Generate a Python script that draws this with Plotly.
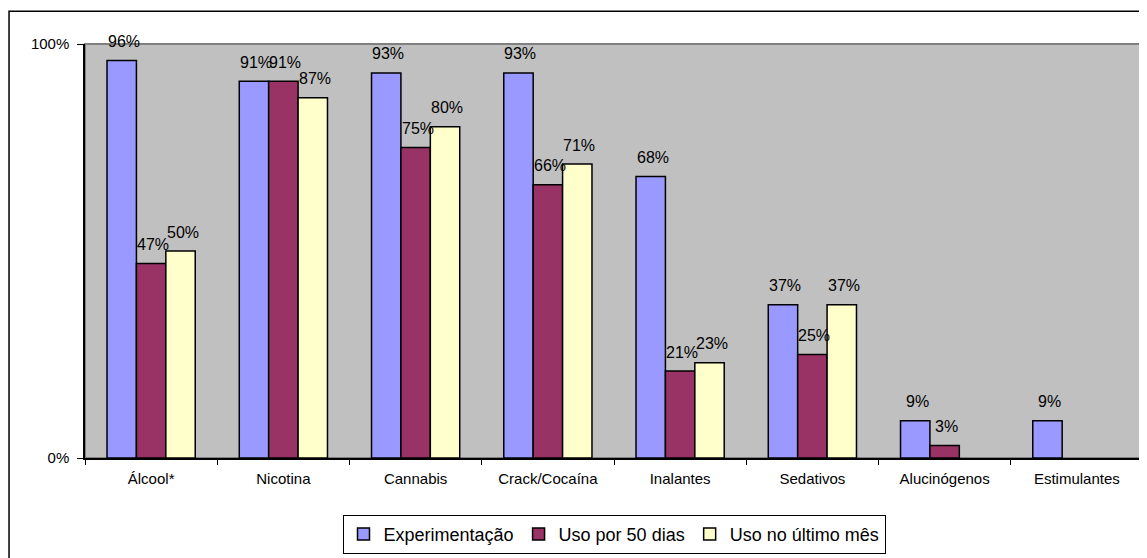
import plotly.graph_objects as go

categories = ["Álcool*", "Nicotina", "Cannabis", "Crack/Cocaína", "Inalantes", "Sedativos", "Alucinógenos", "Estimulantes"]
experimentacao = [0.96, 0.91, 0.93, 0.93, 0.68, 0.37, 0.09, 0.09]
uso_50_dias = [0.47, 0.91, 0.75, 0.66, 0.21, 0.25, 0.03, None]
uso_ultimo_mes = [0.50, 0.87, 0.80, 0.71, 0.23, 0.37, None, None]

series = [
    ("Experimentação", experimentacao, "#9999FF"),
    ("Uso por 50 dias", uso_50_dias, "#993366"),
    ("Uso no último mês", uso_ultimo_mes, "#FFFFCC"),
]

FONT = "Liberation Sans, Arial, sans-serif"

fig = go.Figure()
annotations = []
offsets = [-29.5, 0, 29.5]
for i, (name, vals, color) in enumerate(series):
    fig.add_trace(go.Bar(
        name=name, x=categories, y=vals,
        marker=dict(color=color, line=dict(color="black", width=1.5)),
        hoverinfo="skip",
    ))
    for cat, v in zip(categories, vals):
        if v is None:
            continue
        annotations.append(dict(
            x=cat, y=v, xref="x", yref="y", text=f"{round(v*100)}%",
            showarrow=False, xshift=offsets[i] + 2, yshift=19, yanchor="middle",
            font=dict(family=FONT, size=16, color="black"),
        ))

fig.update_layout(
    width=1139, height=550,
    margin=dict(l=77, r=4, t=36, b=98),
    paper_bgcolor="white", plot_bgcolor="#C0C0C0",
    barmode="group", bargap=0.333, bargroupgap=0,
    font=dict(family=FONT, color="black"),
    showlegend=True,
    annotations=annotations,
    legend=dict(orientation="h", x=0.5, xanchor="center", y=-0.137, yanchor="top",
                bordercolor="black", borderwidth=1, bgcolor="white",
                font=dict(family=FONT, size=18), traceorder="normal"),
    shapes=[
        dict(type="rect", xref="paper", yref="paper", x0=0, x1=1, y0=0, y1=1,
             line=dict(color="#808080", width=2), fillcolor="rgba(0,0,0,0)", layer="below"),
        dict(type="rect", xref="paper", yref="paper", x0=-0.0718, x1=1.01, y0=-0.3, y1=1.0793,
             line=dict(color="black", width=1.5), fillcolor="rgba(0,0,0,0)"),
    ],
)
fig.update_xaxes(showline=True, linecolor="black", linewidth=1.5, ticks="outside",
                 tickson="boundaries", ticklen=5, tickcolor="black", showgrid=False,
                 ticklabelstandoff=6, tickfont=dict(family=FONT, size=15))
fig.update_yaxes(range=[0, 1], tickvals=[0, 1], ticktext=["0%", "100%"], showline=True,
                 linecolor="black", linewidth=1.5, ticks="outside", ticklen=6,
                 tickcolor="black", showgrid=False, zeroline=False,
                 ticklabelstandoff=5, tickfont=dict(family=FONT, size=15))

fig.write_html("out.html")
